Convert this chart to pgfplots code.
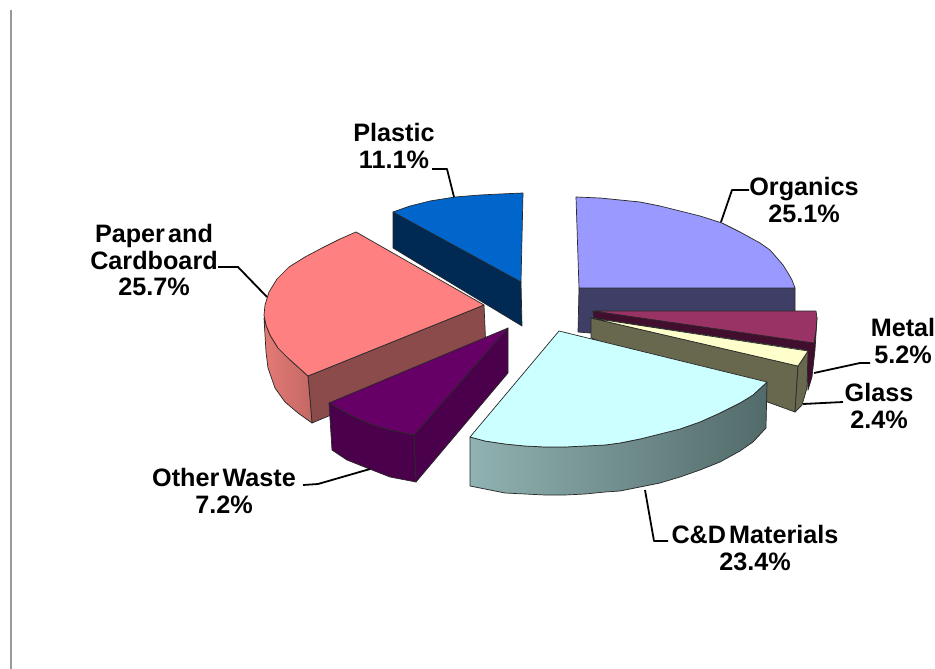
\documentclass[border=0pt]{standalone}
\usepackage{pgfplots}
\usepackage{fontspec}
\setmainfont[WordSpace=0.45]{Liberation Sans}
\pgfplotsset{compat=1.18}

\definecolor{plasticTop}{RGB}{0,102,204}
\definecolor{plasticSide}{RGB}{0,41,84}
\definecolor{paperTop}{RGB}{255,128,128}
\definecolor{paperSide}{RGB}{140,75,75}
\definecolor{paperOutL}{RGB}{228,122,118}
\definecolor{paperOutR}{RGB}{196,104,100}
\definecolor{otherTop}{RGB}{102,0,102}
\definecolor{otherSide}{RGB}{75,0,75}
\definecolor{cdTop}{RGB}{204,255,255}
\definecolor{cdL}{RGB}{145,178,178}
\definecolor{cdD}{RGB}{82,106,106}
\definecolor{orgTop}{RGB}{153,153,255}
\definecolor{orgSide}{RGB}{62,62,102}
\definecolor{metalTop}{RGB}{153,51,102}
\definecolor{metalSide}{RGB}{66,14,46}
\definecolor{glassTop}{RGB}{255,255,204}
\definecolor{glassSide}{RGB}{104,104,78}
\definecolor{edge}{RGB}{40,40,40}

\tikzset{
  lab/.style={font=\fontsize{25.2}{26.6}\selectfont\bfseries, align=center, text=black, inner sep=0pt},
  lead/.style={draw=black, line width=1.8pt, fill=none},
}

\begin{document}
\begin{tikzpicture}
\begin{axis}[
  scale only axis, width=935pt, height=669pt,
  xmin=0, xmax=935, ymin=0, ymax=669, y dir=reverse,
  hide axis,
  every axis plot/.append style={draw=edge, line width=0.7pt, line join=round},
]
% keeps the page at the full frame
\addplot[draw=none] coordinates {(0,0) (935,669)};
% frame line at left
\addplot[draw=black!40, line width=1.1pt] coordinates {(11,10) (11,669)};

% organics
\addplot[fill=orgSide] coordinates {(579,288) (795,288) (795,325) (590,333) (578,332)} --cycle;
\addplot[fill=orgTop] coordinates {(576,197) (600,198) (620,200) (640,202) (660,206) (680,211) (700,216) (722,223) (740,232) (760,243) (770,250) (777,258) (783,265) (788,273) (792,280) (795,288) (579,288)} --cycle;

% metal
\addplot[fill=metalSide] coordinates {(593,311) (814,342) (817,318) (815,350) (812,377) (808,390) (806,350) (594,318)} --cycle;
\addplot[fill=metalTop] coordinates {(593,311) (816,311) (817,318) (816,330) (814,343)} --cycle;

% glass
\addplot[fill=glassSide] coordinates {(591,318) (798,366) (795,412) (591,338)} --cycle;
\addplot[fill=glassSide] coordinates {(798,366) (808,351) (807,388) (802,405) (795,412)} --cycle;
\addplot[fill=glassTop] coordinates {(591,318) (808,351) (798,366)} --cycle;

% C&D
\addplot[shade, left color=cdL, middle color=cdD, right color=cdD] coordinates {(470,437) (485,441) (505,444) (525,446) (545,447) (565,447) (585,446) (605,445) (620,443) (640,439) (660,434) (680,429) (700,422) (720,413) (740,403) (753,395) (767,382) (766,428) (753,442) (740,451) (720,462) (700,470) (680,477) (660,483) (640,487) (620,491) (605,492) (585,494) (565,495) (545,495) (525,494) (505,493) (485,489) (470,486)} --cycle;
\addplot[fill=cdTop] coordinates {(559,331) (767,382) (753,395) (740,403) (720,413) (700,422) (680,429) (660,434) (640,439) (620,443) (605,445) (585,446) (565,447) (545,447) (525,446) (505,444) (485,441) (470,437)} --cycle;

% paper and cardboard
\addplot[fill=paperSide] coordinates {(308,376) (484,305) (486,350) (312,423)} --cycle;
\addplot[shade, left color=paperOutL, right color=paperOutR] coordinates {(264,318) (266,352) (268,368) (275,388) (285,402) (298,413) (312,423) (308,376) (298,367) (288,358) (278,348) (270,335) (266,325)} --cycle;
\addplot[fill=paperTop] coordinates {(356,232) (484,305) (308,376) (298,367) (288,358) (278,348) (270,335) (266,325) (264,315) (265,305) (269,292) (277,279) (289,267) (305,257) (322,248) (340,239)} --cycle;

% other waste
\addplot[fill=otherSide] coordinates {(414,435) (508,328) (508,373) (416,482)} --cycle;
\addplot[fill=otherSide] coordinates {(329,403) (332,450) (347,460) (367,468) (390,477) (416,482) (414,435) (390,430) (370,424) (350,415)} --cycle;
\addplot[fill=otherTop] coordinates {(508,328) (414,435) (390,430) (370,424) (350,415) (329,403)} --cycle;

% plastic
\addplot[fill=plasticSide] coordinates {(393,212) (521,282) (522,326) (393,248)} --cycle;
\addplot[fill=plasticTop] coordinates {(393,212) (410,206) (430,201) (455,197) (480,195) (500,194) (523,193) (521,282)} --cycle;

% leader lines
\addplot[lead] coordinates {(432,169) (447,169) (454,197)};
\addplot[lead] coordinates {(749,190) (732,190) (721,222)};
\addplot[lead] coordinates {(814,373) (860,363) (870,363)};
\addplot[lead] coordinates {(803,404) (843,402)};
\addplot[lead] coordinates {(645,490) (654,541) (668,541)};
\addplot[lead] coordinates {(303,485) (318,484) (370,469)};
\addplot[lead] coordinates {(218,267) (238,267) (267,297)};

% labels
\node[lab] at (axis cs:394,146) {Plastic\\11.1\%};
\node[lab] at (axis cs:804,200) {Organics\\25.1\%};
\node[lab] at (axis cs:903,341) {Metal\\5.2\%};
\node[lab] at (axis cs:879,406) {Glass\\2.4\%};
\node[lab] at (axis cs:755,548) {C\&D Materials\\23.4\%};
\node[lab] at (axis cs:224,491) {Other Waste\\7.2\%};
\node[lab] at (axis cs:154,260) {Paper and\\Cardboard\\25.7\%};
\end{axis}
\end{tikzpicture}
\end{document}
